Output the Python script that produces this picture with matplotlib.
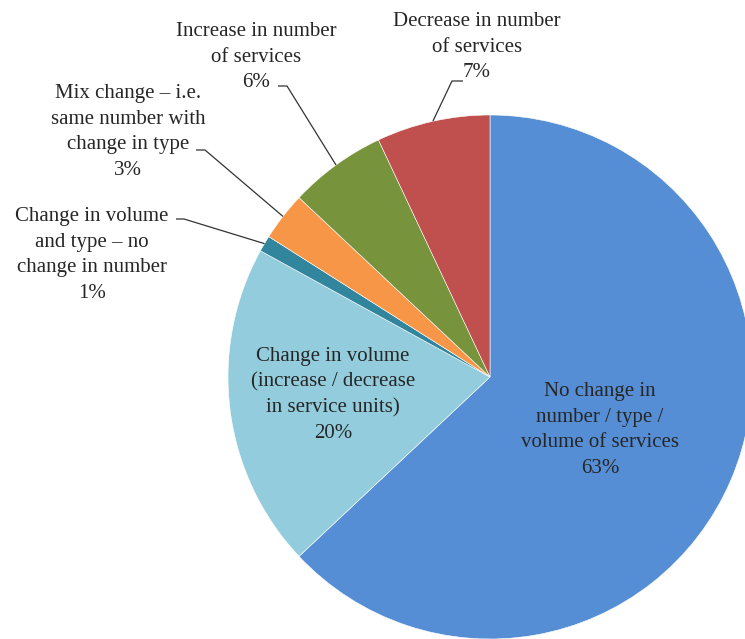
import matplotlib
matplotlib.use("Agg")
import matplotlib.pyplot as plt
import numpy as np

labels = ["No change in\nnumber / type /\nvolume of services",
          "Change in volume\n(increase / decrease\nin service units)",
          "Change in volume\nand type \u2013 no\nchange in number",
          "Mix change \u2013 i.e.\nsame number with\nchange in type",
          "Increase in number\nof services",
          "Decrease in number\nof services"]
shares = [63, 20, 1, 3, 6, 7]
colors = ["#558ED5", "#93CDDD", "#31859C", "#F79646", "#77933C", "#C0504D"]

W, H = 745, 639
fig = plt.figure(figsize=(W / 100, H / 100), dpi=100)
ax = fig.add_axes([0, 0, 1, 1])

cx, cy, r = 490, H - 377, 262
wedges, _ = ax.pie(shares, colors=colors, startangle=90, counterclock=False,
                   center=(cx, cy), radius=r,
                   wedgeprops=dict(edgecolor="white", linewidth=0.4))
ax.set_xlim(0, W)
ax.set_ylim(0, H)
ax.set_aspect("equal")
ax.axis("off")

font = dict(family="Liberation Serif", fontsize=15, color="#262626",
            ha="center", va="center", linespacing=1.48)

# labels inside the two big slices
inside = {0: (600, H - 430), 1: (333, H - 395)}
for i, (x, y) in inside.items():
    ax.text(x, y, f"{labels[i]}\n{shares[i]}%", **font)

# outside labels: text centre, knee of the leader, end of the horizontal tick
outside = {
    2: ((92, H - 255), (184, H - 219), (176, H - 219)),
    3: ((128, H - 132), (205, H - 150), (196, H - 150)),
    4: ((256, H - 57), (287, H - 86), (278, H - 86)),
    5: ((477, H - 47), (452, H - 81), (463, H - 81)),
}
for i, (txt, knee, tick) in outside.items():
    ax.text(txt[0], txt[1], f"{labels[i]}\n{shares[i]}%", **font)
    w = wedges[i]
    mid = np.deg2rad((w.theta1 + w.theta2) / 2)
    ex, ey = cx + r * np.cos(mid), cy + r * np.sin(mid)
    ax.plot([ex, knee[0], tick[0]], [ey, knee[1], tick[1]],
            color="#333333", lw=0.9, solid_capstyle="butt")

fig.savefig("out.png", dpi=100, facecolor="white")
